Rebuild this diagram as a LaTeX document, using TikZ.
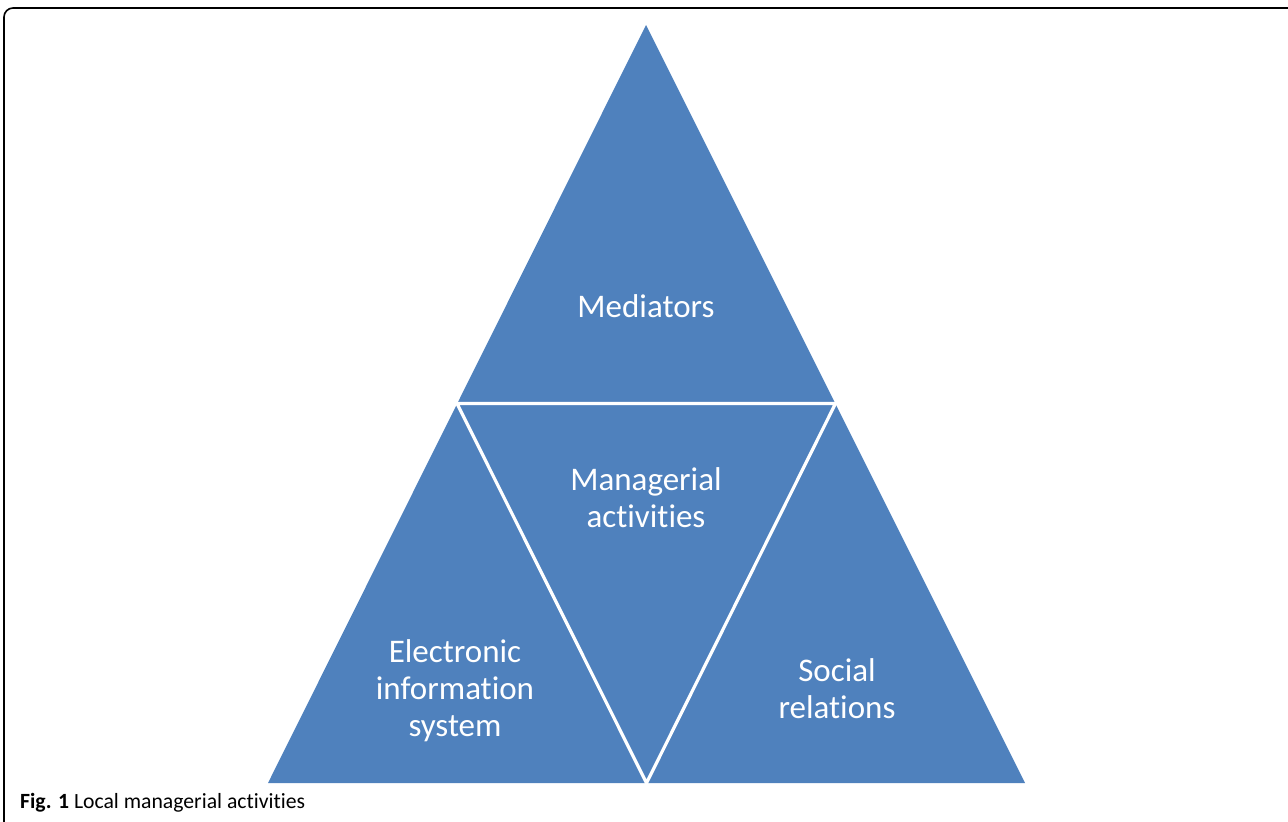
\documentclass[tikz,border=0pt]{standalone}
\usepackage{fontspec}
\setmainfont{Carlito}[Ligatures=NoCommon]
\usepackage{xcolor}
\definecolor{triblue}{HTML}{4F81BD}

\begin{document}
\begin{tikzpicture}[x=1pt,y=-1pt,
  lbl/.style={text=white, align=center, font=\fontsize{33}{37}\selectfont}]
\useasboundingbox (0,0) rectangle (1288,822);
% frame round the figure
\draw[line width=1.6pt, rounded corners=9pt] (4,8) rectangle (1300,834);
% the big triangle and its white cuts
\coordinate (top) at (646,25);
\coordinate (bl) at (268,783);
\coordinate (br) at (1025,783);
\fill [triblue] (top) -- (bl) -- (br) -- cycle;
\draw[white, line width=3.2pt] (457,403.5) -- (835.5,403.5) -- (646.5,783) -- cycle;
\fill [white] (258,784.6) rectangle (1035,790);
% labels
\node[lbl] (med) at (646,306) {Mediators};
\node[lbl] (mgr) at (646,498) {Managerial\\activities};
\node[lbl] (eis) at (455,691) {Electronic\\information\\system};
\node[lbl] (soc) at (837,689) {Social\\relations};
\node[anchor=base west, font=\fontsize{21.7}{25}\selectfont, inner sep=0pt] (caption) at (20,808) {\textbf{Fig. 1} Local managerial activities};
\end{tikzpicture}
\end{document}
